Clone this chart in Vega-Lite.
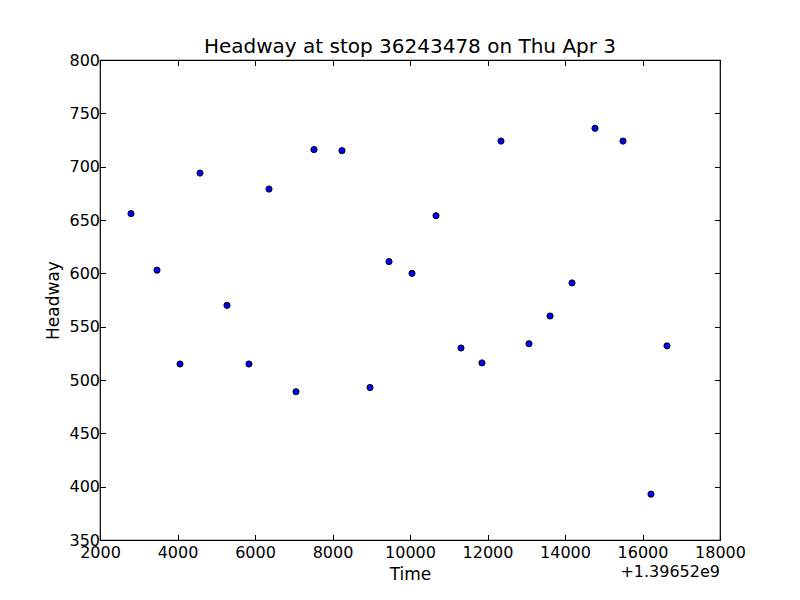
{
  "$schema": "https://vega.github.io/schema/vega-lite/v6.json",
  "autosize": "none",
  "width": 620,
  "height": 480,
  "padding": {"left": 100, "top": 60, "right": 80, "bottom": 60},
  "background": "white",
  "title": {"text": "Headway at stop 36243478 on Thu Apr 3", "font": "DejaVu Sans", "fontSize": 20, "fontWeight": "normal", "color": "black", "offset": -5, "anchor": "middle"},
  "config": {
    "view": {"stroke": "black", "strokeWidth": 1.2},
    "axis": {"grid": false, "domain": false, "tickColor": "black", "tickSize": -5.5, "tickWidth": 1, "labelColor": "black", "labelFont": "DejaVu Sans", "labelFontSize": 16, "titleFont": "DejaVu Sans", "titleFontSize": 17, "titleFontWeight": "normal", "titleColor": "black"}
  },
  "data": {"values": [
    {"Time": 2800, "Headway": 656},
    {"Time": 3471, "Headway": 603},
    {"Time": 4065, "Headway": 515},
    {"Time": 4581, "Headway": 694},
    {"Time": 5277, "Headway": 570},
    {"Time": 5845, "Headway": 515},
    {"Time": 6361, "Headway": 679},
    {"Time": 7058, "Headway": 489},
    {"Time": 7523, "Headway": 716},
    {"Time": 8245, "Headway": 715},
    {"Time": 8968, "Headway": 493},
    {"Time": 9458, "Headway": 611},
    {"Time": 10052, "Headway": 600},
    {"Time": 10671, "Headway": 654},
    {"Time": 11316, "Headway": 530},
    {"Time": 11858, "Headway": 516},
    {"Time": 12348, "Headway": 724},
    {"Time": 13071, "Headway": 534},
    {"Time": 13613, "Headway": 560},
    {"Time": 14181, "Headway": 591},
    {"Time": 14774, "Headway": 736},
    {"Time": 15497, "Headway": 724},
    {"Time": 16219, "Headway": 393},
    {"Time": 16632, "Headway": 532}
  ]},
  "layer": [
    {
      "mark": {"type": "point", "filled": true, "fill": "#0000ff", "stroke": "black", "strokeWidth": 1, "opacity": 1, "size": 38},
      "encoding": {
        "x": {"field": "Time", "type": "quantitative", "scale": {"domain": [2000, 18000], "nice": false, "zero": false},
              "axis": {"orient": "bottom", "values": [2000,4000,6000,8000,10000,12000,14000,16000,18000], "format": "d", "labelPadding": 10, "title": "Time", "titlePadding": 6, "labelFlush": false}},
        "y": {"field": "Headway", "type": "quantitative", "scale": {"domain": [350, 800], "nice": false, "zero": false},
              "axis": {"orient": "left", "values": [350,400,450,500,550,600,650,700,750,800], "format": "d", "labelPadding": 6, "title": "Headway", "titlePadding": 6, "labelFlush": false}}
      }
    },
    {
      "data": {"values": [{"label": "+1.39652e9"}]},
      "mark": {"type": "text", "align": "right", "baseline": "alphabetic", "dy": 37, "font": "DejaVu Sans", "fontSize": 16, "color": "black"},
      "encoding": {
        "x": {"datum": 18000, "type": "quantitative", "axis": {"orient": "top", "values": [2000,4000,6000,8000,10000,12000,14000,16000,18000], "labels": false, "title": null, "maxExtent": 0, "minExtent": 0}},
        "y": {"datum": 350, "type": "quantitative", "axis": {"orient": "right", "values": [350,400,450,500,550,600,650,700,750,800], "labels": false, "title": null, "maxExtent": 0, "minExtent": 0}},
        "text": {"field": "label"}
      }
    }
  ],
  "resolve": {"axis": {"x": "independent", "y": "independent"}}
}
